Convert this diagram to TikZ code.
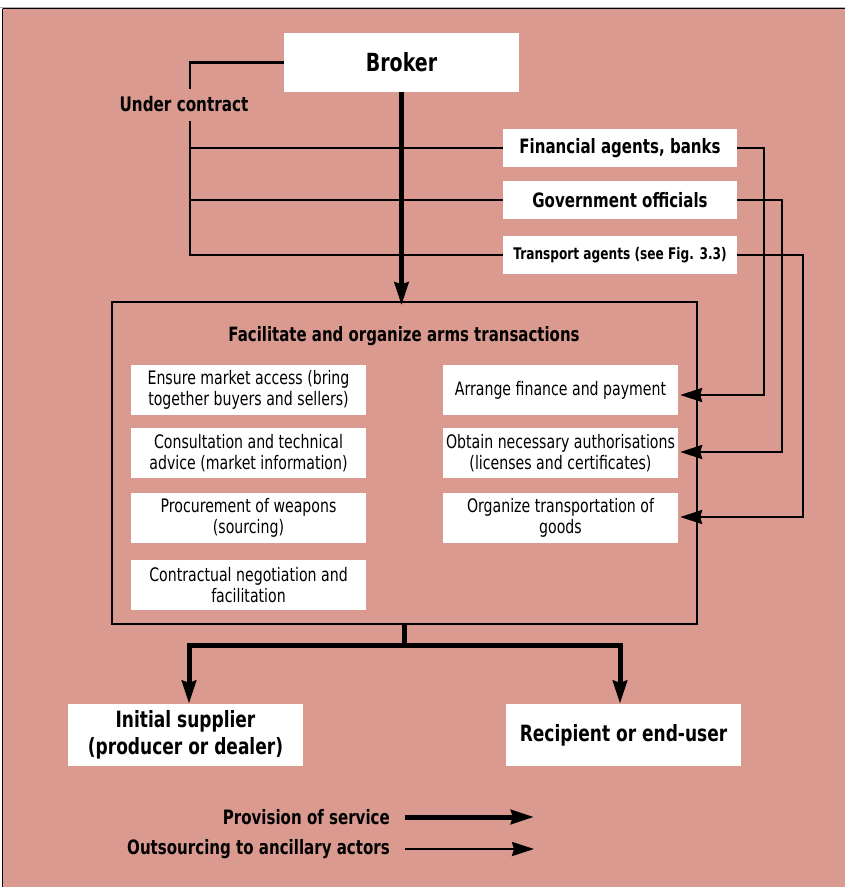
\documentclass[tikz,border=0pt]{standalone}
\usepackage{fontspec}
\setmainfont{DejaVu Sans}[FakeStretch=0.76]
\usetikzlibrary{arrows.meta}
\definecolor{bgpink}{RGB}{218,154,143}
\tikzset{
  wbox/.style={fill=white, inner sep=0pt, align=center},
  provision/.style={line width=5pt, -{Stealth[length=23pt,width=14pt,inset=2pt]}},
  provline/.style={line width=5pt},
  outsrc/.style={line width=2.4pt, -{Stealth[length=22pt,width=14pt,inset=2pt]}},
  outline/.style={line width=2.4pt},
  bodyfont/.style={font=\fontsize{18.6}{21}\selectfont},
  agentfont/.style={font=\fontsize{19.8}{22}\selectfont\bfseries},
}
\begin{document}
\begin{tikzpicture}[x=1pt,y=-1pt]
\useasboundingbox (0,0) rectangle (845,887);
\fill[white] (0,0) rectangle (845,887);
\fill[bgpink] (2,8) rectangle (845,887);
\draw[gray!60, line width=1pt] (0,7.5) -- (845,7.5);
\draw[black, line width=1.5pt] (2.5,8.5) -- (845,8.5);
\draw[black, line width=1.5pt] (2.5,8.5) -- (2.5,887);

% Broker
\node[wbox, minimum width=235, minimum height=59, font=\fontsize{25}{28}\selectfont\bfseries] (broker) at (401.5,62.5) {Broker};

% agents
\node[wbox, minimum width=234, minimum height=38, agentfont] (fin) at (620,148) {Financial agents, banks};
\node[wbox, minimum width=234, minimum height=38, agentfont] (gov) at (620,200) {Government officials};
\node[wbox, minimum width=234, minimum height=38, font=\fontsize{16}{18}\selectfont\bfseries] (trans) at (620,255) {Transport agents (see Fig. 3.3)};

% under contract
\node[font=\fontsize{20}{22}\selectfont\bfseries, inner sep=0pt] (uc) at (184,104) {Under contract};
\coordinate (c1) at (190,89);
\coordinate (c2) at (190,121);
\draw[outline] (broker.west) -| (c1);
\draw[outline] (c2) |- (trans.west);
\draw[outline] (fin.west) -- (fin.west -| c2);
\draw[outline] (gov.west) -- (gov.west -| c2);

% main box
\node[draw, line width=1.2pt, minimum width=585, minimum height=322, inner sep=0pt] (main) at (404.5,463) {};
\node[font=\fontsize{19.7}{22}\selectfont\bfseries, inner sep=0pt] (title) at (404,336) {Facilitate and organize arms transactions};

\draw[provision] (broker.south) -- ([yshift=-4pt]broker.south |- main.north);

% left boxes
\node[wbox, minimum width=235, minimum height=50, bodyfont] (l1) at (248.5,390) {Ensure market access (bring\\together buyers and sellers)};
\node[wbox, minimum width=235, minimum height=50, bodyfont] (l2) at (248.5,453) {Consultation and technical\\advice (market information)};
\node[wbox, minimum width=235, minimum height=50, bodyfont] (l3) at (248.5,518) {Procurement of weapons\\(sourcing)};
\node[wbox, minimum width=235, minimum height=50, bodyfont] (l4) at (248.5,585) {Contractual negotiation and\\facilitation};

% right boxes
\node[wbox, minimum width=235, minimum height=50, bodyfont] (r1) at (560.5,390) {Arrange finance and payment};
\node[wbox, minimum width=235, minimum height=50, bodyfont] (r2) at (560.5,453) {Obtain necessary authorisations\\(licenses and certificates)};
\node[wbox, minimum width=235, minimum height=50, bodyfont] (r3) at (560.5,518) {Organize transportation of\\goods};

% outsourcing connectors
\coordinate (a1) at (764,395);
\coordinate (a2) at (782,452);
\coordinate (a3) at (803,517);
\draw[outsrc] (fin.east) -| (a1) -- ([xshift=2pt]r1.east |- a1);
\draw[outsrc] (gov.east) -| (a2) -- ([xshift=2pt]r2.east |- a2);
\draw[outsrc] (trans.east) -| (a3) -- ([xshift=2pt]r3.east |- a3);

% bottom
\node[wbox, minimum width=235, minimum height=62, font=\fontsize{22.4}{27}\selectfont\bfseries] (sup) at (185.5,735) {Initial supplier\\(producer or dealer)};
\node[wbox, minimum width=235, minimum height=62, font=\fontsize{22.4}{27}\selectfont\bfseries] (rec) at (623.5,735) {Recipient or end-user};
\coordinate (j) at (404.5,645);
\draw[provline] (main.south) -- (j);
\draw[provision] (j) -| ([xshift=3.5pt]sup.north);
\draw[provision] (j) -| ([xshift=-3.5pt]rec.north);

% legend
\node[anchor=east, inner sep=0pt, font=\fontsize{19.8}{22}\selectfont\bfseries] (leg1) at (390,817) {Provision of service};
\node[anchor=east, inner sep=0pt, font=\fontsize{19.8}{22}\selectfont\bfseries] (leg2) at (390,849) {Outsourcing to ancillary actors};
\coordinate (p1) at (534,817);
\coordinate (p2) at (534,849);
\draw[provision] ([xshift=15pt]leg1.east) -- (p1);
\draw[outsrc] ([xshift=15pt]leg2.east) -- (p2);
\end{tikzpicture}
\end{document}
